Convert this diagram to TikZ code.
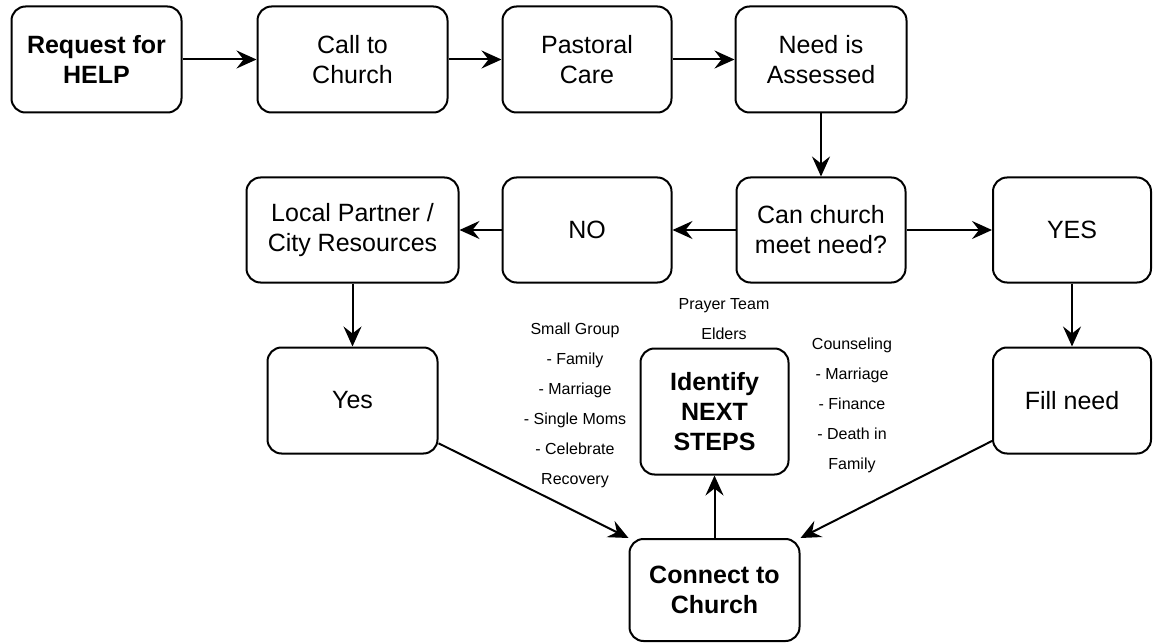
\documentclass[tikz,border=0pt]{standalone}
\usepackage{fontspec}
\setmainfont{Liberation Sans}
\usetikzlibrary{arrows.meta}

\begin{document}
\begin{tikzpicture}[x=1pt,y=-1pt,
    box/.style={draw,line width=2pt,rounded corners=14pt,align=center,
      inner sep=0pt,font=\fontsize{25}{30}\selectfont},
    boldbox/.style={box,font=\fontsize{25}{30}\selectfont\bfseries},
    note/.style={align=center,inner sep=0pt,font=\fontsize{16}{30}\selectfont},
    >={Stealth[length=20pt,width=18pt,inset=7pt]}]
  \useasboundingbox (0,0) rectangle (1153,644);
  \draw
    (96.5,59.5) node[boldbox,minimum width=170pt,minimum height=106pt] (req){Request for\\HELP}
    (352.5,59.5) node[box,minimum width=190pt,minimum height=106pt] (call){Call to\\Church}
    (587,59.5) node[box,minimum width=169pt,minimum height=106pt] (past){Pastoral\\Care}
    (821,59.5) node[box,minimum width=171pt,minimum height=106pt] (need){Need is\\Assessed}
    (821,230) node[box,minimum width=169pt,minimum height=105pt] (can){Can church\\meet need?}
    (587,230) node[box,minimum width=169pt,minimum height=105pt] (no){NO}
    (352.5,230) node[box,minimum width=212pt,minimum height=105pt] (local){Local Partner /\\City Resources}
    (1072,230) node[box,minimum width=158pt,minimum height=105pt] (yesbig){YES}
    (352.5,400.5) node[box,minimum width=170pt,minimum height=106pt] (yes){Yes}
    (1072,400.5) node[box,minimum width=158pt,minimum height=106pt] (fill){Fill need}
    (714.5,411.5) node[boldbox,minimum width=148pt,minimum height=126pt] (ident){Identify\\NEXT\\STEPS}
    (714.5,590) node[boldbox,minimum width=170pt,minimum height=102pt] (conn){Connect to\\Church};
  % side notes
  \draw
    (724,319) node[note] (prayer){Prayer Team\\Elders}
    (575,405) node[note] (group){Small Group\\- Family\\- Marriage\\- Single Moms\\- Celebrate\\Recovery}
    (852,405) node[note] (couns){Counseling\\- Marriage\\- Finance\\- Death in\\Family};
  \begin{scope}[->,line width=2pt]
    \draw (req) to (call);
    \draw (call) to (past);
    \draw (past) to (need);
    \draw (need) to (can);
    \draw (can) to (no);
    \draw (no) to (local);
    \draw (can) to (yesbig);
    \draw (local) to (yes);
    \draw (yesbig) to (fill);
    \draw (yes) to (conn.north west);
    \draw (fill) to (conn.north east);
    \draw (conn) to (ident);
  \end{scope}
\end{tikzpicture}
\end{document}
